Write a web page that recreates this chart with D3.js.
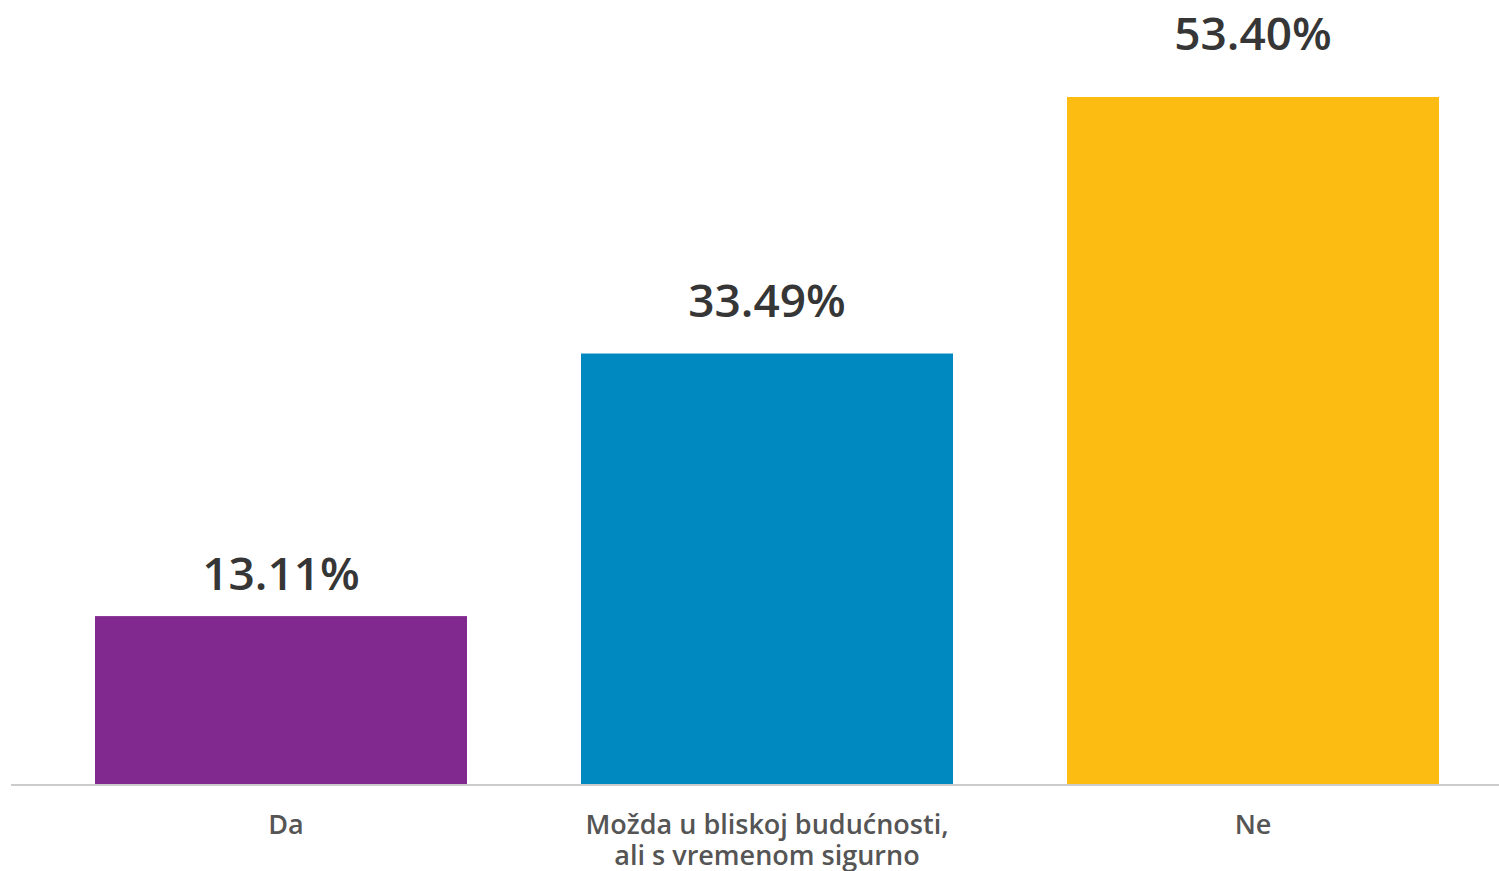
<!DOCTYPE html>
<html>
<head>
<meta charset="utf-8">
<script src="https://cdn.jsdelivr.net/npm/d3@7"></script>
<style>
  html, body { margin: 0; padding: 0; background: #fff; }
  svg { display: block; font-family: "Open Sans", "Noto Sans", sans-serif; }
</style>
</head>
<body>
<svg id="chart" width="1499" height="871"></svg>
<script>
var categories = ["Da", "Možda u bliskoj budućnosti,\nali s vremenom sigurno", "Ne"];
var values = [13.11, 33.49, 53.40];
var colors = ["#82298f", "#0088c1", "#fcbc11"];

var svg = d3.select("#chart"),
  width = +svg.attr("width"),
  height = +svg.attr("height"),
  baseline = 785;

var x = d3.scaleBand()
  .domain(categories)
  .range([38, 1496])
  .paddingInner(0.2346)
  .paddingOuter(0.1173);

var y = d3.scaleLinear()
  .domain([0, 53.40])
  .range([baseline, 97]);

// value labels sit a bit higher on tall bars
var yLabel = d3.scaleLinear()
  .domain([0, 53.40])
  .range([766, 50]);

var data = categories.map(function(c, i) {
  return { cat: c, value: values[i], color: colors[i] };
});

svg.selectAll(".bar")
  .data(data)
  .enter()
  .append("rect")
  .attr("class", "bar")
  .attr("x", function(d) { return x(d.cat); })
  .attr("width", x.bandwidth())
  .attr("y", function(d) { return y(d.value); })
  .attr("height", function(d) { return baseline - y(d.value); })
  .style("fill", function(d) { return d.color; });

// baseline axis
var axis = svg.append("g")
  .attr("transform", "translate(0," + baseline + ")")
  .call(d3.axisBottom(x).tickSize(0).tickFormat(""));
axis.select(".domain")
  .attr("d", "M11,0H" + width)
  .attr("stroke", "#cccccc")
  .attr("stroke-width", 2);

// category labels
svg.selectAll(".cat")
  .data(data)
  .enter()
  .append("text")
  .attr("class", "cat")
  .attr("text-anchor", "middle")
  .attr("fill", "#555555")
  .style("font-size", "27px")
  .style("font-weight", 600)
  .each(function(d, i) {
    var t = d3.select(this);
    d.cat.split("\n").forEach(function(line, j) {
      t.append("tspan")
        .attr("x", x(d.cat) + x.bandwidth() / 2 + (i == 0 ? 5 : 0))
        .attr("y", 834 + j * 31)
        .text(line);
    });
  });

// value labels
svg.selectAll(".val")
  .data(data)
  .enter()
  .append("text")
  .attr("class", "val")
  .attr("text-anchor", "middle")
  .attr("x", function(d) { return x(d.cat) + x.bandwidth() / 2; })
  .attr("y", function(d) { return yLabel(d.value); })
  .attr("fill", "#363636")
  .style("font-size", "46px")
  .style("font-weight", 600)
  .text(function(d) { return d.value.toFixed(2) + "%"; });
</script>
</body>
</html>
